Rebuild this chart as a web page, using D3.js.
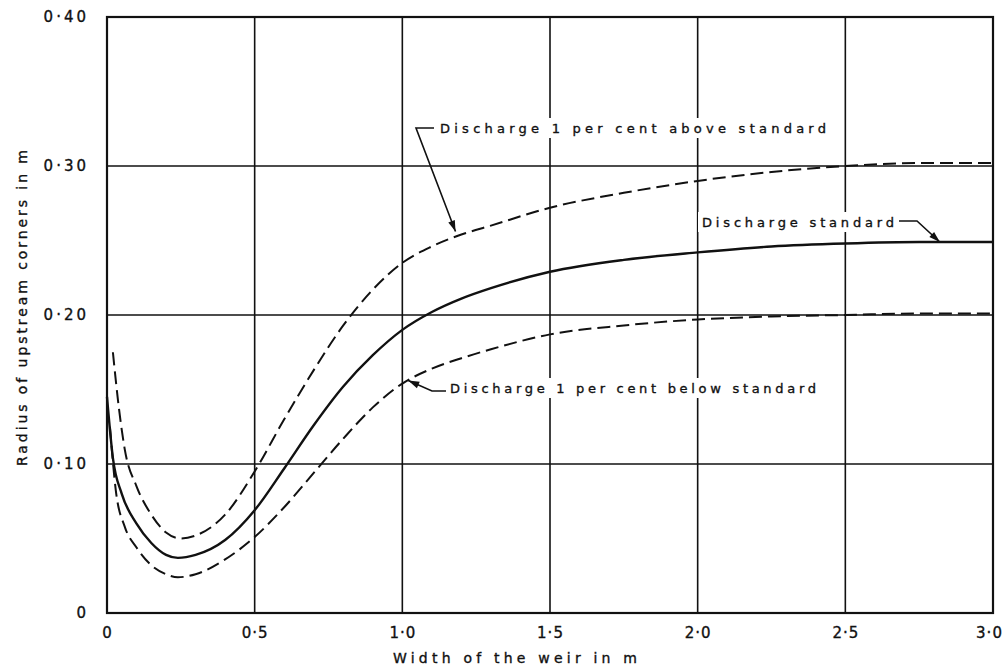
<!DOCTYPE html>
<html><head><meta charset="utf-8">
<script src="https://cdn.jsdelivr.net/npm/d3@7"></script>
<style>
body{margin:0;background:#fff;}
svg{display:block;}
text{font-family:"DejaVu Sans",sans-serif;fill:#111;stroke:#111;stroke-width:0.35px;}
</style></head>
<body>
<svg id="chart" width="1003" height="672"></svg>
<script>
const xTicks = [0, 0.5, 1.0, 1.5, 2.0, 2.5, 3.0];
const xTickLabels = ["0", "0·5", "1·0", "1·5", "2·0", "2·5", "3·0"];
const yTicks = [0, 0.10, 0.20, 0.30, 0.40];
const yTickLabels = ["0", "0·10", "0·20", "0·30", "0·40"];

const standardX = [0, 0.02, 0.05, 0.1, 0.15, 0.2, 0.24, 0.3, 0.4, 0.5, 0.6, 0.7, 0.8, 0.9, 1.0, 1.1, 1.2, 1.3, 1.5, 1.75, 2.0, 2.25, 2.5, 2.75, 3.0];
const standardY = [0.145, 0.104, 0.080, 0.060, 0.047, 0.039, 0.037, 0.039, 0.049, 0.069, 0.097, 0.126, 0.152, 0.173, 0.190, 0.202, 0.211, 0.218, 0.229, 0.237, 0.242, 0.246, 0.248, 0.249, 0.249];

const aboveX = [0.02, 0.04, 0.06, 0.1, 0.15, 0.2, 0.25, 0.3, 0.4, 0.5, 0.6, 0.7, 0.8, 0.9, 1.0, 1.1, 1.2, 1.3, 1.5, 1.75, 2.0, 2.25, 2.5, 2.75, 3.0];
const aboveY = [0.175, 0.138, 0.110, 0.085, 0.066, 0.054, 0.050, 0.052, 0.066, 0.095, 0.130, 0.163, 0.193, 0.217, 0.235, 0.246, 0.254, 0.260, 0.272, 0.282, 0.290, 0.296, 0.300, 0.302, 0.302];

const belowX = [0.01, 0.03, 0.06, 0.1, 0.15, 0.2, 0.24, 0.3, 0.4, 0.5, 0.6, 0.7, 0.8, 0.9, 1.0, 1.1, 1.2, 1.3, 1.5, 1.75, 2.0, 2.25, 2.5, 2.75, 3.0];
const belowY = [0.125, 0.082, 0.058, 0.044, 0.032, 0.026, 0.024, 0.026, 0.036, 0.051, 0.071, 0.094, 0.117, 0.138, 0.154, 0.164, 0.171, 0.177, 0.187, 0.193, 0.197, 0.199, 0.200, 0.201, 0.201];

const labelAbove = "Discharge 1 per cent above standard";
const labelStandard = "Discharge standard";
const labelBelow = "Discharge 1 per cent below standard";
const xTitle = "Width of the weir in m";
const yTitle = "Radius of upstream corners in m";

const svg = d3.select("#chart");
const L = 107, R = 993, T = 17, B = 613;
const x = d3.scaleLinear().domain([0, 3.0]).range([L, R]);
const y = d3.scaleLinear().domain([0, 0.40]).range([B, T]);

// grid
const g = svg.append("g");
g.selectAll("line.vg").data(xTicks).join("line")
  .attr("x1", d => x(d)).attr("x2", d => x(d)).attr("y1", T).attr("y2", B)
  .attr("stroke", "#111").attr("stroke-width", 1.6);
g.selectAll("line.hg").data(yTicks).join("line")
  .attr("y1", d => y(d)).attr("y2", d => y(d)).attr("x1", L).attr("x2", R)
  .attr("stroke", "#111").attr("stroke-width", 1.6);
g.append("rect").attr("x", L).attr("y", T).attr("width", R - L).attr("height", B - T)
  .attr("fill", "none").attr("stroke", "#111").attr("stroke-width", 2.2);

// axes labels via d3 axes
const xAxis = d3.axisBottom(x).tickValues(xTicks).tickFormat((d, i) => xTickLabels[i]).tickSize(0).tickPadding(14);
const yAxis = d3.axisLeft(y).tickValues(yTicks).tickFormat((d, i) => yTickLabels[i]).tickSize(0).tickPadding(18);
const xa = svg.append("g").attr("transform", `translate(0,${B})`).call(xAxis);
const ya = svg.append("g").attr("transform", `translate(${L},0)`).call(yAxis);
[xa, ya].forEach(a => {
  a.select(".domain").remove();
  a.selectAll("text").attr("font-size", 15)
    .attr("font-family", "DejaVu Sans").attr("fill", "#111");
});
ya.selectAll("text").attr("letter-spacing", 3);
xa.selectAll("text").attr("letter-spacing", 1).attr("dx", (d, i) => i === xTicks.length - 1 ? -4 : 0);

// curves
const line = d3.line().x(d => x(d[0])).y(d => y(d[1])).curve(d3.curveMonotoneX);
function series(xs, ys) { return xs.map((v, i) => [v, ys[i]]); }
svg.append("path").datum(series(standardX, standardY)).attr("d", line)
  .attr("fill", "none").attr("stroke", "#111").attr("stroke-width", 2.4);
svg.append("path").datum(series(aboveX, aboveY)).attr("d", line)
  .attr("fill", "none").attr("stroke", "#111").attr("stroke-width", 2).attr("stroke-dasharray", "13,6");
svg.append("path").datum(series(belowX, belowY)).attr("d", line)
  .attr("fill", "none").attr("stroke", "#111").attr("stroke-width", 2).attr("stroke-dasharray", "13,6");

// annotations
const ann = svg.append("g");
function label(txt, x0, yc, width) {
  ann.append("rect").attr("x", x0 - 4).attr("y", yc - 10).attr("width", width + 8).attr("height", 20).attr("fill", "#fff");
  ann.append("text").attr("x", x0).attr("y", yc).attr("dy", "0.35em")
    .attr("font-size", 13).attr("textLength", width).attr("lengthAdjust", "spacing").text(txt);
}
label(labelAbove, 440, 128, 386);
label(labelStandard, 702, 222, 192);
label(labelBelow, 450, 388, 366);

function arrowTo(pts) {
  const p = d3.line()(pts);
  ann.append("path").attr("d", p).attr("fill", "none").attr("stroke", "#111").attr("stroke-width", 1.6);
  const [a, b] = [pts[pts.length - 2], pts[pts.length - 1]];
  const ang = Math.atan2(b[1] - a[1], b[0] - a[0]);
  const len = 11, w = 3.5;
  const bx = b[0] - len * Math.cos(ang), by = b[1] - len * Math.sin(ang);
  const px = -Math.sin(ang) * w, py = Math.cos(ang) * w;
  ann.append("path").attr("d", `M${b[0]},${b[1]}L${bx + px},${by + py}L${bx - px},${by - py}Z`).attr("fill", "#111");
}
arrowTo([[434, 128], [416, 128], [x(1.18), y(0.256)]]);
arrowTo([[899, 221], [917, 221], [x(2.82), y(0.249)]]);
arrowTo([[446, 391], [432, 391], [x(1.02), y(0.156)]]);

// titles
svg.append("text").attr("x", 515).attr("y", 663).attr("text-anchor", "middle")
  .attr("font-size", 14).attr("textLength", 244).attr("lengthAdjust", "spacing").text(xTitle);
svg.append("text").attr("transform", "translate(27,308) rotate(-90)").attr("text-anchor", "middle")
  .attr("font-size", 14).attr("textLength", 316).attr("lengthAdjust", "spacing").text(yTitle);
</script>
</body></html>
